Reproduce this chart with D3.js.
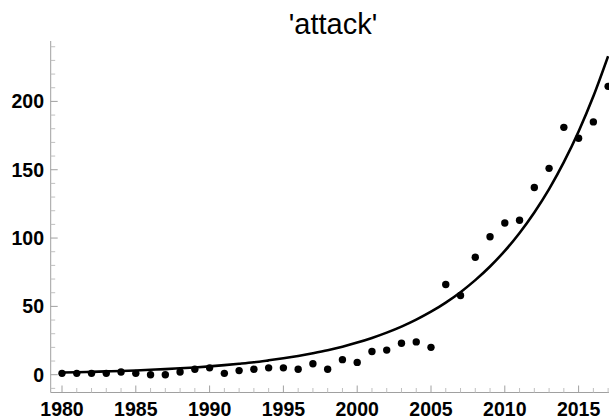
<!DOCTYPE html>
<html><head><meta charset="utf-8">
<script src="https://cdn.jsdelivr.net/npm/d3@7"></script>
<style>body{margin:0;background:#fff}svg{display:block}</style>
</head><body>
<svg id="c" width="609" height="418"></svg>
<script>
const title = "'attack'";
const years = d3.range(1980, 2018);
const attacks = [1,1,1,1,2,1,0,0,2,4,5,1,3,4,5,5,4,8,4,11,9,17,18,23,24,20,66,58,86,101,111,113,137,151,181,173,185,211];
// fitted curve values read at each year
const fitValues = [1.6,1.8,2.1,2.4,2.7,3.1,3.6,4.1,4.7,5.3,6.1,7.0,8.0,9.1,10.5,12.0,13.7,15.7,17.9,20.5,23.5,26.9,30.8,35.2,40.3,46.1,52.8,60.4,69.2,79.2,90.6,103.7,118.7,135.8,155.5,178.0,203.7,233.1];
const xTicks = [1980,1985,1990,1995,2000,2005,2010,2015];
const yTicks = [0,50,100,150,200];

const svg = d3.select("#c");
const x = d3.scaleLinear().domain([1980, 2015]).range([62, 578.6]);
const y = d3.scaleLinear().domain([0, 200]).range([374.7, 101.4]);
const axisLeftX = 50.7, axisBottomY = 392.5;
const xMin = x.invert(axisLeftX), xMax = x.invert(609);
const yMin = y.invert(axisBottomY), yMax = y.invert(41);

const axisColor = "#a0a0a0", minorColor = "#c0c0c0";
const font = "'Liberation Sans', Arial, sans-serif";

// title
svg.append("text").attr("x", 333).attr("y", 33.5).attr("text-anchor", "middle")
  .attr("font-family", font).attr("font-size", 29).attr("fill", "#000").text(title);

// axes lines
svg.append("line").attr("x1", axisLeftX).attr("x2", axisLeftX).attr("y1", y(yMax)).attr("y2", axisBottomY)
  .attr("stroke", axisColor).attr("stroke-width", 1);
svg.append("line").attr("x1", axisLeftX).attr("x2", 609).attr("y1", axisBottomY).attr("y2", axisBottomY)
  .attr("stroke", axisColor).attr("stroke-width", 1);

// y ticks
const yMinor = d3.range(-10, 250, 10).filter(v => v >= yMin && v <= yMax);
svg.append("g").selectAll("line").data(yMinor).join("line")
  .attr("x1", axisLeftX).attr("x2", d => axisLeftX + (d % 50 === 0 ? 7 : 4.5))
  .attr("y1", d => y(d)).attr("y2", d => y(d))
  .attr("stroke", d => d % 50 === 0 ? axisColor : minorColor).attr("stroke-width", 1);
svg.append("g").selectAll("text").data(yTicks).join("text")
  .attr("x", 44).attr("y", d => y(d)).attr("dy", "0.36em").attr("text-anchor", "end")
  .attr("font-family", font).attr("font-weight", "bold").attr("font-size", 19.5).attr("fill", "#000")
  .text(d => d);

// x ticks
const xMinor = years.filter(v => v >= xMin && v <= xMax);
svg.append("g").selectAll("line").data(xMinor).join("line")
  .attr("x1", d => x(d)).attr("x2", d => x(d))
  .attr("y1", axisBottomY).attr("y2", d => axisBottomY - (d % 5 === 0 ? 7 : 4.5))
  .attr("stroke", d => d % 5 === 0 ? axisColor : minorColor).attr("stroke-width", 1);
svg.append("g").selectAll("text").data(xTicks).join("text")
  .attr("x", d => x(d)).attr("y", 415.5).attr("text-anchor", "middle")
  .attr("font-family", font).attr("font-weight", "bold").attr("font-size", 19.5).attr("fill", "#000")
  .text(d => d);

// clip
svg.append("clipPath").attr("id", "clip").append("rect")
  .attr("x", axisLeftX).attr("y", 0).attr("width", 609 - axisLeftX).attr("height", axisBottomY);

// fit curve
const line = d3.line().x((d, i) => x(years[i])).y(d => y(d)).curve(d3.curveMonotoneX);
svg.append("path").datum(fitValues).attr("d", line).attr("fill", "none")
  .attr("stroke", "#000").attr("stroke-width", 2.6).attr("clip-path", "url(#clip)");

// points
svg.append("g").selectAll("circle").data(attacks).join("circle")
  .attr("cx", (d, i) => x(years[i])).attr("cy", d => y(d)).attr("r", 3.7).attr("fill", "#000");
</script>
</body></html>
